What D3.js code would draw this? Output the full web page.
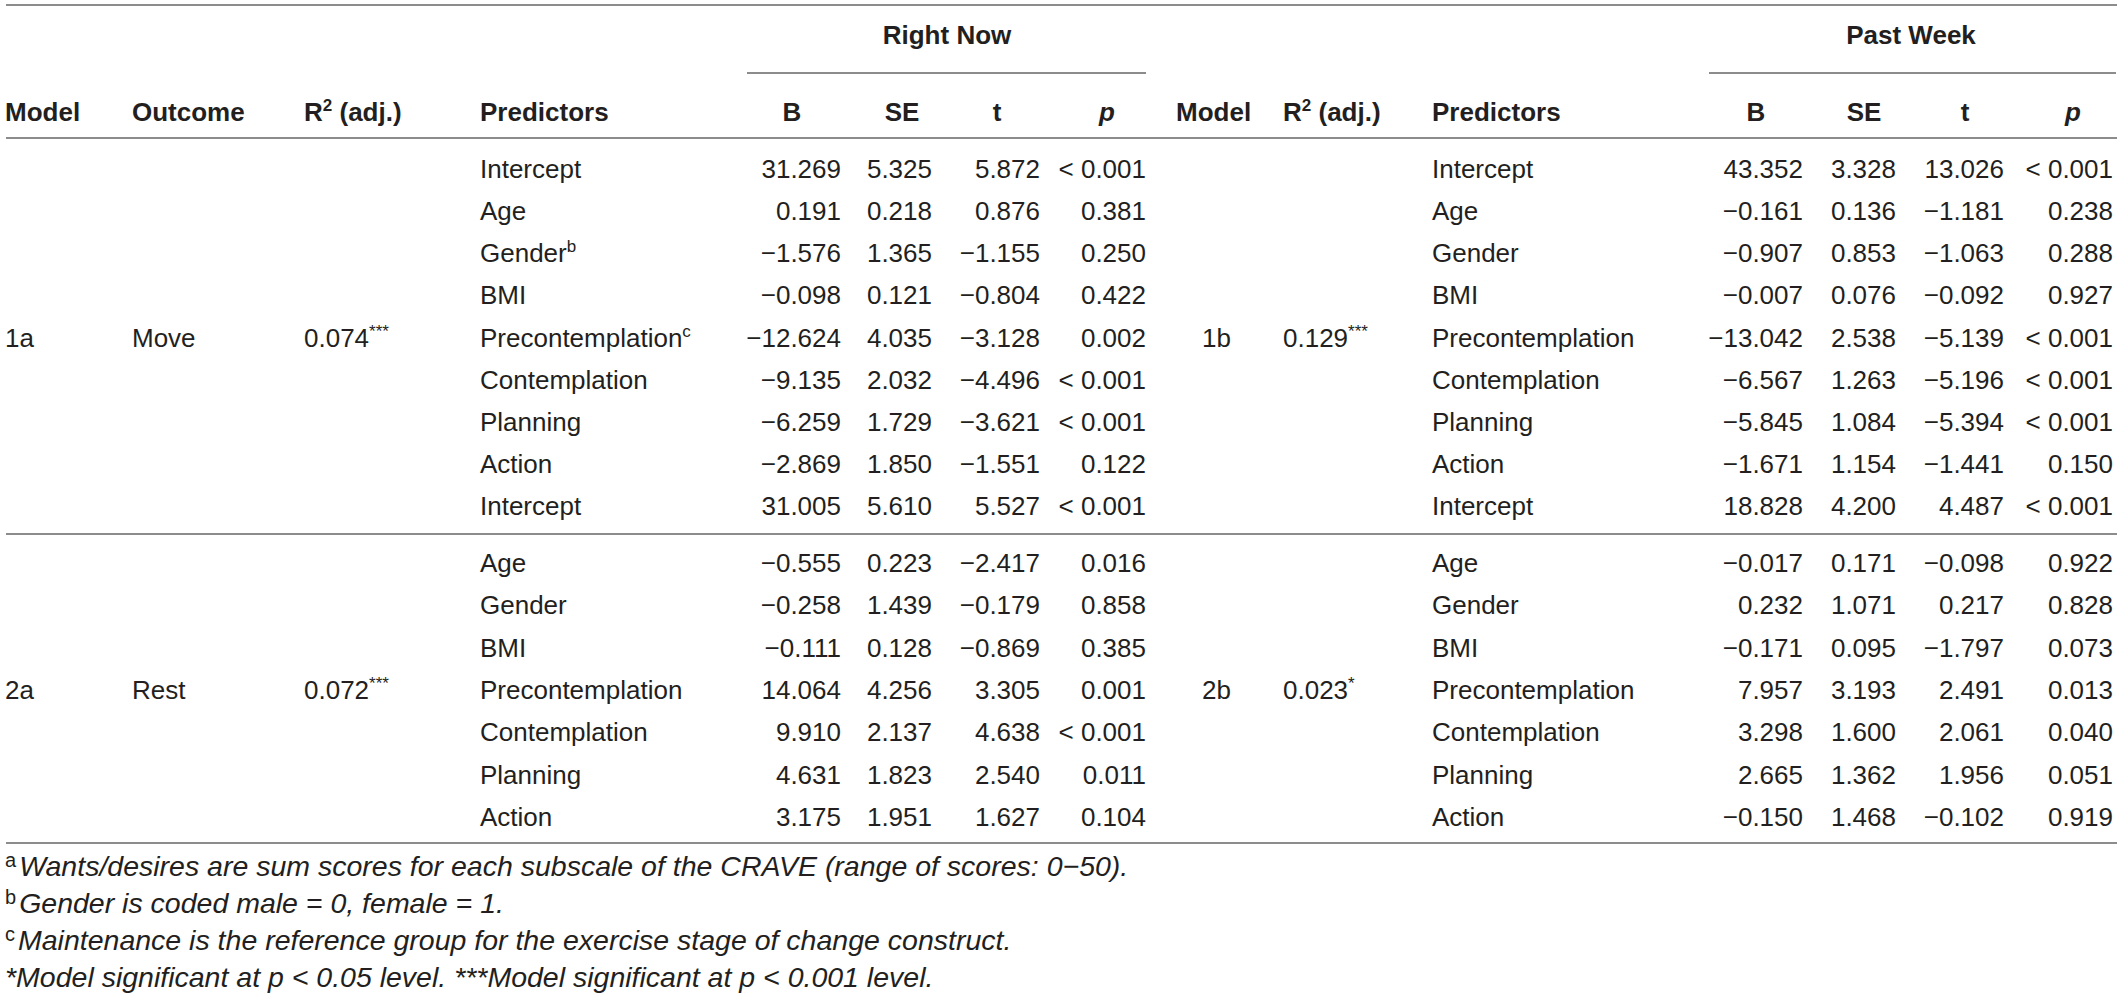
<!DOCTYPE html>
<html>
<head>
<meta charset="utf-8">
<script src="https://cdn.jsdelivr.net/npm/d3@7"></script>
<style>
  body { margin: 0; background: #fff; }
  svg { display: block; font-family: "Liberation Sans", Arial, sans-serif; }
</style>
</head>
<body>
<div class="chart"></div>
<script>
// table values
const predictors = ["Intercept", "Age", "Gender", "BMI", "Precontemplation", "Contemplation", "Planning", "Action",
    "Intercept", "Age", "Gender", "BMI", "Precontemplation", "Contemplation", "Planning", "Action"];
const leftSup = { 2: "b", 4: "c" }; // footnote marks on the left predictors

const rnB = [31.269, 0.191, -1.576, -0.098, -12.624, -9.135, -6.259, -2.869, 31.005, -0.555, -0.258, -0.111, 14.064, 9.910, 4.631, 3.175];
const rnSE = [5.325, 0.218, 1.365, 0.121, 4.035, 2.032, 1.729, 1.850, 5.610, 0.223, 1.439, 0.128, 4.256, 2.137, 1.823, 1.951];
const rnT = [5.872, 0.876, -1.155, -0.804, -3.128, -4.496, -3.621, -1.551, 5.527, -2.417, -0.179, -0.869, 3.305, 4.638, 2.540, 1.627];
const rnP = ["< 0.001", "0.381", "0.250", "0.422", "0.002", "< 0.001", "< 0.001", "0.122", "< 0.001", "0.016", "0.858", "0.385", "0.001", "< 0.001", "0.011", "0.104"];

const pwB = [43.352, -0.161, -0.907, -0.007, -13.042, -6.567, -5.845, -1.671, 18.828, -0.017, 0.232, -0.171, 7.957, 3.298, 2.665, -0.150];
const pwSE = [3.328, 0.136, 0.853, 0.076, 2.538, 1.263, 1.084, 1.154, 4.200, 0.171, 1.071, 0.095, 3.193, 1.600, 1.362, 1.468];
const pwT = [13.026, -1.181, -1.063, -0.092, -5.139, -5.196, -5.394, -1.441, 4.487, -0.098, 0.217, -1.797, 2.491, 2.061, 1.956, -0.102];
const pwP = ["< 0.001", "0.238", "0.288", "0.927", "< 0.001", "< 0.001", "< 0.001", "0.150", "< 0.001", "0.922", "0.828", "0.073", "0.013", "0.040", "0.051", "0.919"];

const leftModels = ["1a", "2a"];
const outcomes = ["Move", "Rest"];
const leftR2 = ["0.074", "0.072"];
const leftStars = ["***", "***"];
const rightModels = ["1b", "2b"];
const rightR2 = ["0.129", "0.023"];
const rightStars = ["***", "*"];
const modelRow = [4, 12]; // row where the model labels sit

const footnotes = [
    ["a", "Wants/desires are sum scores for each subscale of the CRAVE (range of scores: 0\u221250)."],
    ["b", "Gender is coded male = 0, female = 1."],
    ["c", "Maintenance is the reference group for the exercise stage of change construct."],
    ["*", "Model significant at p < 0.05 level. ***Model significant at p < 0.001 level."]
];

const W = 2117, H = 1001;
const fs = 26;
const ink = "#231f20";
const rule = "#8c8c8c";

const svg = d3.select("div.chart")
    .append("svg")
    .attr("width", W)
    .attr("height", H);

// row positions: two blocks split by a rule
const y1 = d3.scaleLinear().domain([0, 8]).range([169, 506]);
const y2 = d3.scaleLinear().domain([9, 15]).range([563, 817]);
const rowY = i => (i < 9 ? y1(i) : y2(i)) + 9; // baseline
const fmt = d3.format(".3f");

// horizontal rules
const hline = (x0, x1, y) => svg.append("line")
    .attr("x1", x0).attr("x2", x1).attr("y1", y).attr("y2", y)
    .attr("stroke", rule).attr("stroke-width", 2);
hline(6, W, 5);
hline(747, 1146, 73);
hline(1709, W - 1, 73);
hline(6, W, 138);
hline(6, W, 534);
hline(6, W, 843);

// group titles
svg.selectAll("text.group")
    .data([["Right Now", 947], ["Past Week", 1911]])
    .enter()
    .append("text")
    .attr("class", "group")
    .attr("x", d => d[1])
    .attr("y", 35 + 9)
    .attr("text-anchor", "middle")
    .attr("font-size", fs)
    .attr("font-weight", "bold")
    .attr("fill", ink)
    .text(d => d[0]);

// column headers
const headers = [
    { t: "Model", x: 5, a: "start" },
    { t: "Outcome", x: 132, a: "start" },
    { t: "R2", x: 304, a: "start" },
    { t: "Predictors", x: 480, a: "start" },
    { t: "B", x: 792, a: "middle" },
    { t: "SE", x: 902, a: "middle" },
    { t: "t", x: 997, a: "middle" },
    { t: "p", x: 1107, a: "middle", i: true },
    { t: "Model", x: 1176, a: "start" },
    { t: "R2", x: 1283, a: "start" },
    { t: "Predictors", x: 1432, a: "start" },
    { t: "B", x: 1756, a: "middle" },
    { t: "SE", x: 1864, a: "middle" },
    { t: "t", x: 1965, a: "middle" },
    { t: "p", x: 2073, a: "middle", i: true }
];
const head = svg.selectAll("text.head")
    .data(headers)
    .enter()
    .append("text")
    .attr("class", "head")
    .attr("x", d => d.x)
    .attr("y", 112 + 9)
    .attr("text-anchor", d => d.a)
    .attr("font-size", fs)
    .attr("font-weight", "bold")
    .attr("font-style", d => d.i ? "italic" : "normal")
    .attr("fill", ink);
head.each(function(d) {
    const t = d3.select(this);
    if (d.t === "R2") {
        t.append("tspan").text("R");
        t.append("tspan").attr("dy", -10).attr("font-size", 17).text("2");
        t.append("tspan").attr("dy", 10).text(" (adj.)");
    } else {
        t.text(d.t);
    }
});

// body cells
function textCol(values, x, anchor) {
    svg.append("g")
        .selectAll("text")
        .data(values)
        .enter()
        .append("text")
        .attr("x", x)
        .attr("y", (d, i) => rowY(i))
        .attr("text-anchor", anchor)
        .attr("font-size", fs)
        .attr("fill", ink)
        .text(d => typeof d === "number" ? fmt(d) : d);
}

// predictors, left side carries the footnote marks
const lp = svg.append("g")
    .selectAll("text")
    .data(predictors)
    .enter()
    .append("text")
    .attr("x", 480)
    .attr("y", (d, i) => rowY(i))
    .attr("font-size", fs)
    .attr("fill", ink);
lp.append("tspan").text(d => d);
lp.each(function(d, i) {
    if (leftSup[i]) {
        d3.select(this).append("tspan")
            .attr("dy", -10)
            .attr("font-size", 17)
            .text(leftSup[i]);
    }
});
textCol(predictors, 1432, "start");

textCol(rnB, 841, "end");
textCol(rnSE, 932, "end");
textCol(rnT, 1040, "end");
textCol(rnP, 1146, "end");
textCol(pwB, 1803, "end");
textCol(pwSE, 1896, "end");
textCol(pwT, 2004, "end");
textCol(pwP, 2113, "end");

// model labels
function modelCol(values, x, stars) {
    const t = svg.append("g")
        .selectAll("text")
        .data(values)
        .enter()
        .append("text")
        .attr("x", x)
        .attr("y", (d, i) => rowY(modelRow[i]))
        .attr("font-size", fs)
        .attr("fill", ink);
    t.append("tspan").text(d => d);
    if (stars) {
        t.append("tspan")
            .attr("dy", -10)
            .attr("font-size", 17)
            .text((d, i) => stars[i]);
    }
}
modelCol(leftModels, 5);
modelCol(outcomes, 132);
modelCol(leftR2, 304, leftStars);
modelCol(rightModels, 1202);
modelCol(rightR2, 1283, rightStars);

// footnotes
const ffs = 28.5;
const fy = d3.scaleLinear().domain([0, 3]).range([876, 987]);
const fn = svg.append("g")
    .selectAll("text")
    .data(footnotes)
    .enter()
    .append("text")
    .attr("x", 5)
    .attr("y", (d, i) => fy(i))
    .attr("font-size", ffs)
    .attr("fill", ink);
fn.append("tspan")
    .attr("dy", d => d[0] === "*" ? 0 : -9)
    .attr("font-size", d => d[0] === "*" ? ffs : 20)
    .attr("font-style", d => d[0] === "*" ? "italic" : "normal")
    .text(d => d[0]);
fn.append("tspan")
    .attr("dy", d => d[0] === "*" ? 0 : 9)
    .attr("dx", d => d[0] === "*" ? 0 : 3)
    .attr("font-style", "italic")
    .text(d => d[1]);
</script>
</body>
</html>
